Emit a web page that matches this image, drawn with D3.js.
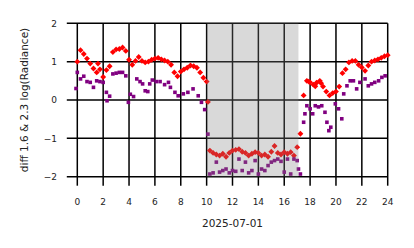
<!DOCTYPE html>
<html>
<head>
<meta charset="utf-8">
<script src="https://cdn.jsdelivr.net/npm/d3@7"></script>
<style>
  body { margin: 0; background: #fff; }
  svg { display: block; font-family: "DejaVu Sans", sans-serif; }
</style>
</head>
<body>
<div id="chart"></div>
<script>
// hours of the day and the two series
var redHours = [0, 0.25, 0.5, 0.75, 1, 1.25, 1.5, 1.6, 1.75, 2, 2.25, 2.5, 2.75, 3, 3.25, 3.5, 3.75,
  4, 4.25, 4.5, 4.75, 5, 5.25, 5.5, 5.75, 6, 6.25, 6.5, 6.75, 7, 7.25, 7.5, 7.75,
  8, 8.25, 8.5, 8.75, 9, 9.25, 9.5, 9.75, 10, 10.1, 10.25, 10.5, 10.75, 11, 11.25, 11.5, 11.75,
  12, 12.25, 12.5, 12.75, 13, 13.25, 13.5, 13.75, 14, 14.25, 14.5, 14.75, 15, 15.25, 15.5, 15.75,
  16, 16.25, 16.5, 16.75, 17, 17.25, 17.5, 17.75, 17.9, 18, 18.25, 18.4, 18.5, 18.75, 18.85, 19, 19.25, 19.5, 19.75,
  20, 20.25, 20.5, 20.75, 21, 21.25, 21.5, 21.75, 22, 22.25, 22.5, 22.75, 23, 23.25, 23.5, 23.75, 24];
var redVals = [1.00, 1.30, 1.20, 1.08, 0.95, 0.82, 0.72, 0.95, 0.80, 0.60, 0.78, 0.88, 1.25, 1.32, 1.33, 1.37, 1.28,
  1.05, 0.92, 1.02, 1.12, 1.02, 0.98, 1.00, 1.05, 1.08, 1.10, 1.06, 1.03, 1.00, 0.92, 0.72, 0.62,
  0.74, 0.80, 0.84, 0.90, 0.88, 0.84, 0.72, 0.58, 0.48, -0.05, -1.32, -1.38, -1.42, -1.45, -1.40, -1.48, -1.38,
  -1.32, -1.30, -1.28, -1.35, -1.38, -1.45, -1.40, -1.36, -1.38, -1.45, -1.42, -1.48, -1.35, -1.20, -1.38, -1.42,
  -1.36, -1.40, -1.36, -1.45, -1.23, -0.88, 0.12, 0.50, 0.48, 0.46, 0.40, 0.36, 0.45, 0.50, 0.44, 0.35, 0.22, 0.12, 0.18,
  0.22, 0.35, 0.70, 0.80, 0.98, 1.02, 1.02, 0.92, 0.85, 0.76, 0.90, 1.00, 1.03, 1.06, 1.10, 1.14, 1.17];

var purpleHours = [-0.1, 0, 0.25, 0.5, 0.75, 1, 1.25, 1.5, 1.75, 2, 2.25, 2.3, 2.5, 2.75, 3, 3.25, 3.5, 3.75, 3.95,
  4.1, 4.35, 4.6, 4.85, 5.05, 5.25, 5.45, 5.6, 5.8, 6.1, 6.4, 6.75, 7.05, 7.2, 7.55, 7.8,
  8.2, 8.55, 8.95, 9.35, 9.6, 9.85, 10.1, 10.25, 10.5, 10.75, 11, 11.25, 11.5, 11.75,
  12, 12.25, 12.5, 12.75, 13, 13.25, 13.5, 13.75, 14, 14.25, 14.5, 14.75, 15, 15.25, 15.5, 15.75,
  16, 16.25, 16.5, 16.75, 17, 17.1, 17.25, 17.5, 17.6, 17.75, 18, 18.2, 18.4, 18.65, 18.9, 19.15, 19.3, 19.45, 19.6,
  19.95, 20.2, 20.45, 20.6, 20.85, 21.1, 21.35, 21.6, 21.85, 22.25, 22.5, 22.75, 23, 23.3, 23.55, 23.8];
var purpleVals = [0.30, 0.72, 0.55, 0.62, 0.48, 0.46, 0.33, 0.50, 0.48, 0.46, 0.20, -0.02, 0.10, 0.68, 0.70, 0.72, 0.72, 0.63, -0.06,
  0.15, 0.09, 0.55, 0.48, 0.42, 0.24, 0.22, 0.42, 0.52, 0.48, 0.48, 0.40, 0.46, 0.33, 0.20, 0.11,
  0.16, 0.20, 0.29, 0.11, -0.06, -0.25, -0.89, -1.93, -1.90, -1.62, -1.88, -1.84, -1.80, -1.90,
  -1.84, -1.86, -1.54, -1.84, -1.62, -1.90, -1.84, -1.58, -1.93, -1.80, -1.84, -1.71, -1.62, -1.58, -1.54, -1.60,
  -1.88, -1.54, -1.93, -1.54, -1.58, -1.80, -1.93, -0.58, -0.36, -0.15, -0.23, -0.36, -0.15, -0.18, -0.15, -0.32, -0.58, -0.80, -0.71,
  -0.10, -0.23, -0.49, 0.16, 0.37, 0.50, 0.50, 0.29, 0.46, 0.55, 0.37, 0.42, 0.46, 0.50, 0.59, 0.63];

var xTicks = [0, 2, 4, 6, 8, 10, 12, 14, 16, 18, 20, 22, 24];
var yTicks = [-2, -1, 0, 1, 2];
var shadeSpan = [10.0, 17.1];
var xTitle = "2025-07-01";
var yTitle = "diff 1.6 & 2.3  log(Radiance)";

var W = 414, H = 248;
var plotL = 77.3, plotR = 387.7, plotT = 23.3, plotB = 176.7;

var svg = d3.select("#chart").append("svg")
    .attr("width", W)
    .attr("height", H);

svg.append("rect").attr("width", W).attr("height", H).attr("fill", "#fff");

var x = d3.scaleLinear().domain([0, 24]).range([plotL, plotR]);
var y = d3.scaleLinear().domain([-2, 2]).range([plotB, plotT]);

// grid + ticks (ticks run past the plot edge)
svg.append("g")
  .selectAll("line")
  .data(xTicks)
  .join("line")
    .attr("x1", d => x(d)).attr("x2", d => x(d))
    .attr("y1", plotT).attr("y2", plotB + 9)
    .attr("stroke", "#000")
    .attr("stroke-width", 1.5);

svg.append("g")
  .selectAll("line")
  .data(yTicks)
  .join("line")
    .attr("x1", plotL - 10.5).attr("x2", plotR)
    .attr("y1", d => y(d)).attr("y2", d => y(d))
    .attr("stroke", "#000")
    .attr("stroke-width", 1.5);

// tick labels
var fmt = d => d < 0 ? "\u2212" + Math.abs(d) : String(d);

svg.append("g")
  .selectAll("text")
  .data(xTicks)
  .join("text")
    .attr("x", d => x(d))
    .attr("y", 204.5)
    .attr("text-anchor", "middle")
    .style("font-size", "9px")
    .attr("fill", "#222")
    .text(d => d);

svg.append("g")
  .selectAll("text")
  .data(yTicks)
  .join("text")
    .attr("x", 57)
    .attr("y", d => y(d) + 3.3)
    .attr("text-anchor", "end")
    .style("font-size", "9px")
    .attr("fill", "#222")
    .text(fmt);

// axis titles
svg.append("text")
  .attr("x", (plotL + plotR) / 2)
  .attr("y", 227)
  .attr("text-anchor", "middle")
  .style("font-size", "10.5px")
  .attr("fill", "#222")
  .text(xTitle);

svg.append("text")
  .attr("transform", `translate(28,${(plotT + plotB) / 2}) rotate(-90)`)
  .attr("text-anchor", "middle")
  .style("font-size", "10.5px")
  .attr("fill", "#222")
  .text(yTitle);

// red diamonds
var diamond = d3.symbol().type(d3.symbolDiamond2).size(22);
svg.append("g")
  .selectAll("path")
  .data(redHours.map((h, i) => [h, redVals[i]]))
  .join("path")
    .attr("transform", d => `translate(${x(d[0])},${y(d[1])})`)
    .attr("d", diamond)
    .attr("fill", "#ff0000");

// purple squares
svg.append("g")
  .selectAll("rect")
  .data(purpleHours.map((h, i) => [h, purpleVals[i]]))
  .join("rect")
    .attr("x", d => x(d[0]) - 1.8)
    .attr("y", d => y(d[1]) - 1.8)
    .attr("width", 3.6)
    .attr("height", 3.6)
    .attr("fill", "#800080");

// shaded span drawn over the points
svg.append("rect")
  .attr("x", x(shadeSpan[0]))
  .attr("y", plotT)
  .attr("width", x(shadeSpan[1]) - x(shadeSpan[0]))
  .attr("height", plotB - plotT)
  .attr("fill", "#808080")
  .attr("opacity", 0.3);
</script>
</body>
</html>
